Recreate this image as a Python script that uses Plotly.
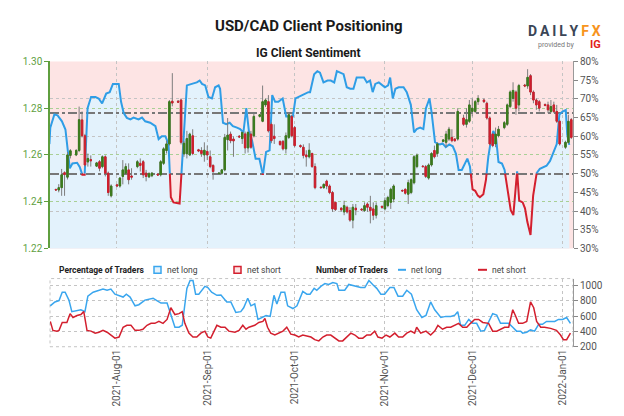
import pandas as pd
import plotly.graph_objects as go

# ---------------- data ----------------
candle_dates = [
    "2021-07-11", "2021-07-12", "2021-07-13", "2021-07-14", "2021-07-15", "2021-07-16",
    "2021-07-18", "2021-07-19", "2021-07-20", "2021-07-21", "2021-07-22", "2021-07-23",
    "2021-07-25", "2021-07-26", "2021-07-27", "2021-07-28", "2021-07-29", "2021-07-30",
    "2021-08-01", "2021-08-02", "2021-08-03", "2021-08-04", "2021-08-05", "2021-08-06",
    "2021-08-08", "2021-08-09", "2021-08-10", "2021-08-11", "2021-08-12", "2021-08-13",
    "2021-08-15", "2021-08-16", "2021-08-17", "2021-08-18", "2021-08-19", "2021-08-20",
    "2021-08-22", "2021-08-23", "2021-08-24", "2021-08-25", "2021-08-26", "2021-08-27",
    "2021-08-29", "2021-08-30", "2021-08-31", "2021-09-01", "2021-09-02", "2021-09-03",
    "2021-09-05", "2021-09-06", "2021-09-07", "2021-09-08", "2021-09-09", "2021-09-10",
    "2021-09-12", "2021-09-13", "2021-09-14", "2021-09-15", "2021-09-16", "2021-09-17",
    "2021-09-19", "2021-09-20", "2021-09-21", "2021-09-22", "2021-09-23", "2021-09-24",
    "2021-09-26", "2021-09-27", "2021-09-28", "2021-09-29", "2021-09-30", "2021-10-01",
    "2021-10-03", "2021-10-04", "2021-10-05", "2021-10-06", "2021-10-07", "2021-10-08",
    "2021-10-10", "2021-10-11", "2021-10-12", "2021-10-13", "2021-10-14", "2021-10-15",
    "2021-10-17", "2021-10-18", "2021-10-19", "2021-10-20", "2021-10-21", "2021-10-22",
    "2021-10-24", "2021-10-25", "2021-10-26", "2021-10-27", "2021-10-28", "2021-10-29",
    "2021-10-31", "2021-11-01", "2021-11-02", "2021-11-03", "2021-11-04",
    "2021-11-07", "2021-11-08", "2021-11-09", "2021-11-10", "2021-11-11", "2021-11-12",
    "2021-11-14", "2021-11-15", "2021-11-16", "2021-11-17", "2021-11-18", "2021-11-19",
    "2021-11-21", "2021-11-22", "2021-11-23", "2021-11-24", "2021-11-25", "2021-11-26",
    "2021-11-28", "2021-11-29", "2021-11-30", "2021-12-01", "2021-12-02", "2021-12-03",
    "2021-12-05", "2021-12-06", "2021-12-07", "2021-12-08", "2021-12-09", "2021-12-10",
    "2021-12-12", "2021-12-13", "2021-12-14", "2021-12-15", "2021-12-16", "2021-12-17",
    "2021-12-19", "2021-12-20", "2021-12-21", "2021-12-22", "2021-12-23", "2021-12-24",
    "2021-12-26", "2021-12-27", "2021-12-28", "2021-12-29", "2021-12-30", "2021-12-31",
    "2022-01-02", "2022-01-03", "2022-01-04",
]
candle_open = [
    1.2452, 1.2450, 1.2460, 1.2524, 1.2505, 1.2598,
    1.2600, 1.2619, 1.2750, 1.2682, 1.2570, 1.2580,
    1.2552, 1.2571, 1.2550, 1.2592, 1.2522, 1.2425,
    1.2472, 1.2467, 1.2508, 1.2522, 1.2536, 1.2510,
    1.2550, 1.2564, 1.2571, 1.2522, 1.2506, 1.2511,
    1.2518, 1.2515, 1.2564, 1.2619, 1.2647, 1.2830,
    1.2830, 1.2835, 1.2605, 1.2605, 1.2600, 1.2682,
    1.2622, 1.2619, 1.2600, 1.2615, 1.2592, 1.2555,
    1.2520, 1.2522, 1.2536, 1.2665, 1.2689, 1.2668,
    1.2680, 1.2670, 1.2690, 1.2630, 1.2689, 1.2682,
    1.2765, 1.2744, 1.2814, 1.2828, 1.2731, 1.2680,
    1.2658, 1.2658, 1.2626, 1.2675, 1.2765, 1.2717,
    1.2640, 1.2633, 1.2600, 1.2592, 1.2606, 1.2550,
    1.2462, 1.2460, 1.2488, 1.2467, 1.2439, 1.2397,
    1.2372, 1.2356, 1.2376, 1.2362, 1.2321, 1.2372,
    1.2368, 1.2362, 1.2390, 1.2376, 1.2369, 1.2342,
    1.2380, 1.2369, 1.2383, 1.2397, 1.2411,
    1.2448, 1.2453, 1.2432, 1.2439, 1.2481, 1.2550,
    1.2552, 1.2550, 1.2501, 1.2557, 1.2619, 1.2606,
    1.2658, 1.2654, 1.2668, 1.2675, 1.2668, 1.2668,
    1.2758, 1.2731, 1.2744, 1.2786, 1.2786, 1.2828,
    1.2835, 1.2821, 1.2758, 1.2689, 1.2647, 1.2682,
    1.2717, 1.2731, 1.2807, 1.2842, 1.2869, 1.2814,
    1.2899, 1.2895, 1.2939, 1.2869, 1.2835, 1.2828,
    1.2816, 1.2814, 1.2786, 1.2814, 1.2786, 1.2744,
    1.2633, 1.2654, 1.2751,
]
candle_high = [
    1.2456, 1.2475, 1.2540, 1.2530, 1.2612, 1.2625,
    1.2625, 1.2807, 1.2786, 1.2690, 1.2606, 1.2598,
    1.2570, 1.2578, 1.2598, 1.2598, 1.2529, 1.2474,
    1.2476, 1.2505, 1.2578, 1.2564, 1.2564, 1.2543,
    1.2578, 1.2585, 1.2578, 1.2536, 1.2526, 1.2527,
    1.2522, 1.2578, 1.2633, 1.2661, 1.2835, 1.2950,
    1.2835, 1.2842, 1.2660, 1.2703, 1.2695, 1.2710,
    1.2626, 1.2633, 1.2654, 1.2640, 1.2619, 1.2560,
    1.2526, 1.2540, 1.2690, 1.2758, 1.2700, 1.2680,
    1.2685, 1.2700, 1.2700, 1.2703, 1.2703, 1.2779,
    1.2775, 1.2897, 1.2842, 1.2856, 1.2740, 1.2731,
    1.2661, 1.2664, 1.2696, 1.2779, 1.2772, 1.2724,
    1.2645, 1.2645, 1.2620, 1.2650, 1.2610, 1.2564,
    1.2465, 1.2478, 1.2494, 1.2474, 1.2446, 1.2400,
    1.2376, 1.2404, 1.2383, 1.2376, 1.2390, 1.2390,
    1.2372, 1.2397, 1.2397, 1.2425, 1.2397, 1.2397,
    1.2383, 1.2418, 1.2425, 1.2460, 1.2474,
    1.2452, 1.2456, 1.2494, 1.2500, 1.2599, 1.2606,
    1.2556, 1.2557, 1.2564, 1.2612, 1.2640, 1.2654,
    1.2668, 1.2703, 1.2720, 1.2710, 1.2672, 1.2800,
    1.2772, 1.2800, 1.2835, 1.2842, 1.2835, 1.2856,
    1.2842, 1.2828, 1.2765, 1.2695, 1.2717, 1.2724,
    1.2745, 1.2820, 1.2876, 1.2911, 1.2876, 1.2904,
    1.2904, 1.2967, 1.2946, 1.2876, 1.2842, 1.2835,
    1.2820, 1.2828, 1.2835, 1.2828, 1.2814, 1.2751,
    1.2661, 1.2772, 1.2758,
]
candle_low = [
    1.2447, 1.2440, 1.2425, 1.2425, 1.2495, 1.2585,
    1.2595, 1.2612, 1.2675, 1.2550, 1.2550, 1.2550,
    1.2548, 1.2530, 1.2543, 1.2508, 1.2425, 1.2418,
    1.2462, 1.2460, 1.2474, 1.2515, 1.2474, 1.2494,
    1.2543, 1.2529, 1.2501, 1.2487, 1.2501, 1.2505,
    1.2510, 1.2508, 1.2557, 1.2606, 1.2640, 1.2808,
    1.2822, 1.2645, 1.2592, 1.2585, 1.2595, 1.2599,
    1.2612, 1.2592, 1.2571, 1.2578, 1.2543, 1.2494,
    1.2516, 1.2515, 1.2530, 1.2619, 1.2650, 1.2592,
    1.2672, 1.2647, 1.2606, 1.2610, 1.2626, 1.2675,
    1.2760, 1.2740, 1.2805, 1.2696, 1.2650, 1.2647,
    1.2640, 1.2619, 1.2606, 1.2668, 1.2675, 1.2633,
    1.2630, 1.2585, 1.2550, 1.2585, 1.2545, 1.2453,
    1.2456, 1.2455, 1.2453, 1.2432, 1.2356, 1.2360,
    1.2356, 1.2342, 1.2349, 1.2314, 1.2286, 1.2342,
    1.2360, 1.2356, 1.2356, 1.2307, 1.2321, 1.2328,
    1.2369, 1.2362, 1.2376, 1.2369, 1.2397,
    1.2442, 1.2430, 1.2390, 1.2432, 1.2474, 1.2543,
    1.2546, 1.2501, 1.2494, 1.2550, 1.2585, 1.2592,
    1.2655, 1.2633, 1.2660, 1.2654, 1.2656, 1.2661,
    1.2724, 1.2717, 1.2737, 1.2765, 1.2779, 1.2814,
    1.2822, 1.2751, 1.2640, 1.2633, 1.2633, 1.2675,
    1.2710, 1.2724, 1.2800, 1.2828, 1.2772, 1.2786,
    1.2890, 1.2883, 1.2856, 1.2821, 1.2793, 1.2786,
    1.2808, 1.2779, 1.2779, 1.2779, 1.2737, 1.2640,
    1.2626, 1.2647, 1.2668,
]
candle_close = [
    1.2450, 1.2460, 1.2515, 1.2516, 1.2600, 1.2618,
    1.2619, 1.2751, 1.2682, 1.2557, 1.2585, 1.2575,
    1.2566, 1.2543, 1.2592, 1.2522, 1.2439, 1.2467,
    1.2467, 1.2501, 1.2536, 1.2550, 1.2494, 1.2505,
    1.2571, 1.2555, 1.2515, 1.2508, 1.2520, 1.2522,
    1.2514, 1.2571, 1.2626, 1.2647, 1.2828, 1.2822,
    1.2826, 1.2654, 1.2650, 1.2670, 1.2689, 1.2606,
    1.2617, 1.2606, 1.2620, 1.2600, 1.2550, 1.2529,
    1.2522, 1.2536, 1.2675, 1.2685, 1.2661, 1.2660,
    1.2677, 1.2696, 1.2630, 1.2696, 1.2633, 1.2765,
    1.2772, 1.2828, 1.2835, 1.2703, 1.2661, 1.2670,
    1.2644, 1.2626, 1.2682, 1.2772, 1.2682, 1.2640,
    1.2636, 1.2598, 1.2592, 1.2620, 1.2550, 1.2460,
    1.2460, 1.2474, 1.2467, 1.2439, 1.2369, 1.2366,
    1.2365, 1.2383, 1.2356, 1.2321, 1.2376, 1.2365,
    1.2365, 1.2383, 1.2376, 1.2362, 1.2342, 1.2383,
    1.2376, 1.2404, 1.2418, 1.2453, 1.2467,
    1.2446, 1.2436, 1.2481, 1.2494, 1.2592, 1.2599,
    1.2550, 1.2508, 1.2557, 1.2606, 1.2592, 1.2647,
    1.2664, 1.2689, 1.2710, 1.2661, 1.2661, 1.2786,
    1.2731, 1.2751, 1.2814, 1.2800, 1.2828, 1.2842,
    1.2828, 1.2758, 1.2647, 1.2640, 1.2689, 1.2710,
    1.2738, 1.2814, 1.2869, 1.2876, 1.2800, 1.2897,
    1.2895, 1.2932, 1.2869, 1.2835, 1.2814, 1.2800,
    1.2812, 1.2793, 1.2807, 1.2786, 1.2744, 1.2647,
    1.2654, 1.2744, 1.2675,
]

# IG client sentiment: % of traders net long (time in days from 2021-08-01)
sent_days = [
    -23.2, -22.9, -21.5, -20.4, -18.9, -17.7, -16.9, -16.2, -15.3, -13.7, -12.8, -11.9,
    -11.1, -10.1, -8.9, -7.4, -6.3, -5.1, -3.7, -2.5, -1.4, 0.6, 1.4, 2.3, 3.4, 4.6, 5.7,
    7.4, 8.6, 9.7, 11.4, 13.2, 14.3, 15.4, 16.6, 17.7, 18.5, 19.4, 20.8, 21.5,
    24.0, 25.7, 27.4, 28.4, 29.2, 30.3, 31.4, 32.6, 33.7, 34.9, 35.4, 36.4, 37.5, 38.7,
    39.8, 41.2, 42.3, 43.4, 44.4, 45.3, 46.4, 47.6, 48.9, 50.1, 51.2, 52.4, 53.3, 54.3,
    55.4, 56.9, 58.1, 59.5, 60.4, 61.3, 62.3, 63.4, 64.6, 65.7,
    66.3, 67.7, 68.8, 69.7, 70.9, 72.3, 73.4, 74.6, 75.5, 76.6, 77.8, 78.9, 80.1, 81.2,
    82.3, 83.7, 84.8, 85.8, 86.9, 87.8, 88.7, 89.9, 91.0, 92.0, 93.1, 93.8, 94.7, 95.6,
    96.7, 98.4, 99.5, 100.9, 102.0, 102.9, 104.1, 105.2, 106.1, 107.3, 108.0, 109.2, 110.4,
    110.9, 111.8, 112.9, 114.1, 115.3, 116.4, 117.3, 118.4, 119.6, 120.3, 121.2, 122.1,
    123.0, 123.9, 124.6, 125.8, 126.7, 127.5, 128.3, 129.2, 130.1, 131.0, 132.2, 133.1,
    134.0, 135.2, 136.1, 136.8, 137.4, 138.1, 139.3, 140.1, 140.9, 142.0, 142.9, 144.1,
    145.2, 146.4, 147.5, 148.7, 149.8, 151.0, 151.9, 153.0, 154.1, 154.6, 155.3,
]
sent_pct = [
    57.9, 62.3, 65.8, 65.6, 64.0, 61.8, 56.2, 51.4, 52.7, 52.9, 51.8, 49.7,
    49.7, 67.5, 70.5, 70.5, 70.1, 68.8, 71.4, 71.8, 74.0, 74.0, 69.2, 66.2, 64.9, 64.5, 65.0,
    64.5, 65.0, 64.0, 63.6, 62.7, 59.2, 60.0, 60.0, 57.9, 43.7, 42.3, 42.2, 42.0,
    73.6, 74.0, 74.4, 74.9, 74.0, 73.6, 70.5, 70.1, 73.1, 73.6, 72.7, 63.6, 63.2, 63.6,
    62.7, 62.3, 61.9, 61.0, 67.5, 61.4, 58.8, 54.0, 54.0, 49.7, 55.8, 56.2, 71.0, 69.2,
    69.2, 70.1, 65.3, 65.3, 65.3, 70.1, 70.5, 71.0, 71.4, 71.8,
    71.8, 76.6, 77.4, 77.0, 74.4, 74.9, 74.9, 74.4, 77.4, 77.0, 76.6, 73.1, 72.7, 72.7,
    75.7, 75.7, 75.7, 74.4, 74.9, 71.8, 74.0, 74.4, 73.6, 73.1, 73.6, 75.7, 70.1, 72.7,
    73.1, 73.1, 71.8, 68.4, 61.0, 61.9, 62.3, 61.9, 67.5, 70.1, 66.6, 58.4, 57.9,
    57.8, 58.1, 57.1, 57.8, 57.3, 55.3, 51.0, 51.0, 52.7, 54.0, 51.9, 45.8,
    45.4, 44.1, 43.7, 44.5, 48.4, 54.5, 58.4, 61.4, 60.1, 53.1, 52.7, 51.0,
    45.8, 40.2, 38.9, 45.8, 50.6, 42.8, 42.3, 40.7, 37.1, 33.6, 44.1, 50.1,
    51.3, 51.7, 52.1, 53.4, 55.4, 57.9, 65.8, 66.6, 67.0, 60.4, 57.7,
]

# number of traders (time in days from 2021-08-01)
long_days = [
    -22.9, -21.3, -19.9, -18.8, -17.8, -16.5, -15.5, -13.7, -12.4, -11.0, -10.0, -8.2,
    -6.2, -4.8, -3.4, -2.1, -0.7, 0.7, 2.1, 3.2, 4.5, 6.2, 7.5, 9.6, 11.0, 12.4, 13.7,
    15.1, 17.2, 18.8, 19.9, 21.3, 22.4, 24.0, 25.1, 26.1, 27.0, 28.1, 30.2, 31.2, 32.5,
    34.3, 35.7, 37.7, 39.1, 40.8, 42.5, 43.5, 44.9, 46.0, 47.3, 48.4, 50.1, 51.2, 52.6,
    53.9, 54.9, 56.3, 57.6, 58.6, 60.4, 61.8, 63.8, 65.2, 66.3, 67.7, 68.6, 70.0, 71.4,
    72.7, 74.1, 75.5, 76.2, 78.2, 79.6, 81.7, 83.7, 85.1, 86.5, 87.8, 89.2, 90.6, 91.9,
    93.7, 95.1, 96.5, 98.1, 99.5, 101.1, 102.9, 104.7, 106.1, 107.7, 109.1, 110.2, 111.2,
    112.9, 114.6, 116.0, 117.0, 118.0, 119.4, 120.8, 122.1, 123.5, 124.9, 126.2, 127.6,
    129.0, 130.4, 131.7, 133.1, 134.5, 135.9, 137.2, 138.6, 139.3, 140.7, 142.0, 143.4,
    144.8, 146.1, 147.5, 148.9, 150.3, 151.6, 153.0, 154.4, 155.7,
]
long_count = [
    735, 786, 804, 913, 913, 810, 659, 669, 684, 659, 862, 913,
    939, 954, 939, 954, 888, 873, 850, 888, 850, 735, 750, 810, 822, 835, 804,
    772, 772, 597, 455, 455, 481, 964, 1066, 1066, 888, 888, 990, 975, 913,
    873, 878, 786, 786, 649, 659, 710, 835, 735, 760, 557, 582, 608, 597,
    873, 760, 913, 913, 735, 700, 735, 924, 888, 888, 964, 939, 990, 1026,
    1015, 1041, 1026, 939, 939, 1015, 990, 975, 975, 1066, 1015, 964, 888, 888,
    975, 975, 862, 862, 939, 888, 684, 582, 608, 786, 684, 633, 582,
    597, 597, 613, 659, 480, 480, 557, 506, 506, 404, 414, 531,
    633, 613, 506, 506, 506, 455, 404, 404, 378, 390, 420, 404,
    493, 493, 531, 531, 531, 557, 557, 582, 506,
]
short_days = [
    -22.9, -22.0, -20.6, -19.9, -18.8, -17.2, -16.1, -15.1, -13.7, -12.4, -11.4, -10.3,
    -8.9, -7.5, -6.2, -4.8, -3.4, -2.1, -0.7, 0.7, 2.1, 3.4, 4.8, 6.2, 7.5, 8.9, 10.3,
    11.7, 13.0, 14.4, 15.8, 17.2, 18.5, 19.9, 21.3, 22.4, 23.3, 24.7, 26.1, 27.4, 28.8,
    30.2, 31.2, 32.2, 34.3, 35.7, 37.1, 38.4, 40.5, 41.9, 43.2, 44.3, 45.3, 47.3, 48.7,
    50.1, 50.8, 51.7, 52.8, 54.2, 55.6, 57.0, 58.3, 59.7, 61.1, 62.4, 63.8, 65.2, 66.6,
    67.9, 69.3, 70.7, 72.0, 73.4, 74.8, 76.2, 77.5, 78.9, 80.3, 81.7, 83.0, 84.4, 85.8,
    87.1, 88.5, 89.6, 91.0, 92.4, 93.7, 95.4, 96.7, 98.1, 99.5, 100.9, 102.2, 102.9,
    104.3, 106.1, 107.7, 109.1, 110.2, 111.8, 113.2, 114.6, 116.0, 117.3, 118.7, 120.1,
    121.4, 122.8, 124.2, 125.6, 127.6, 129.0, 130.4, 131.7, 133.1, 134.5, 135.9, 136.8,
    137.9, 139.3, 140.7, 142.0, 143.1, 144.1, 145.5, 146.8, 148.9, 150.9, 152.3, 153.3,
    154.4, 155.7,
]
short_count = [
    531, 414, 404, 414, 518, 518, 633, 582, 608, 621, 659, 414,
    404, 378, 390, 414, 390, 353, 312, 327, 455, 480, 480, 414, 414, 429, 480,
    506, 506, 531, 506, 557, 710, 621, 633, 659, 506, 378, 327, 327, 378,
    404, 327, 312, 480, 455, 455, 404, 390, 414, 480, 429, 455, 480, 518,
    531, 570, 455, 378, 353, 378, 404, 455, 365, 353, 327, 353, 340, 327,
    292, 276, 327, 353, 353, 312, 276, 276, 327, 378, 353, 312, 312, 353,
    353, 404, 327, 312, 353, 327, 378, 327, 327, 378, 404, 378, 455,
    378, 404, 353, 404, 480, 429, 455, 455, 480, 506, 455, 455,
    506, 557, 557, 518, 506, 404, 404, 429, 455, 455, 684, 608,
    506, 506, 531, 786, 710, 531, 455, 455, 440, 414, 353, 292,
    292, 378,
]

price_ticks = [1.22, 1.24, 1.26, 1.28, 1.30]
pct_ticks = [30, 35, 40, 45, 50, 55, 60, 65, 70, 75, 80]
pct_grid = [40, 60, 70]
ref_pct = [50, 66.1]
count_ticks = [200, 400, 600, 800, 1000]
month_ticks = ["2021-08-01", "2021-09-01", "2021-10-01", "2021-11-01", "2021-12-01", "2022-01-01"]

# ---------------- styling ----------------
FONT = "Roboto, Liberation Sans, Arial, sans-serif"
BLUE = "#2f9de6"
RED = "#d31f2e"
GREEN_AX = "#5f9f3f"
UP = "#3b7b1c"
DOWN = "#cf1f2d"
WICK = "#7d7d7d"
X_RANGE = ["2021-07-09 00:00", "2022-01-04 14:00"]
W, H = 624, 416
XD = [50 / W, 573 / W]
TOP = [1 - 250 / H, 1 - 58 / H]
BOT = [1 - 351 / H, 1 - 281 / H]

BASE = pd.Timestamp("2021-08-01")


def to_time(days):
    return [(BASE + pd.Timedelta(days=float(d))).round("min") for d in days]


sent_t = to_time(sent_days)
long_t = to_time(long_days)
short_t = to_time(short_days)


def color_runs(ts, vs, thr=50.0):
    runs = []
    cur = vs[0] >= thr
    rx, ry = [ts[0]], [vs[0]]
    for i in range(1, len(vs)):
        c = vs[i] >= thr
        if c != cur:
            f = (thr - vs[i - 1]) / (vs[i] - vs[i - 1])
            tm = (ts[i - 1] + (ts[i] - ts[i - 1]) * f).round("min")
            rx.append(tm)
            ry.append(thr)
            runs.append((cur, rx, ry))
            cur, rx, ry = c, [tm], [thr]
        rx.append(ts[i])
        ry.append(vs[i])
    runs.append((cur, rx, ry))
    out = {True: ([], []), False: ([], [])}
    for c, rx, ry in runs:
        out[c][0].extend(rx + [None])
        out[c][1].extend(ry + [None])
    return out


runs = color_runs(sent_t, sent_pct)

fig = go.Figure()

# background fill (separate subplot drawn beneath the main one)
fig.add_trace(go.Scatter(x=sent_t, y=sent_pct, xaxis="x", yaxis="y", mode="lines",
                         line=dict(width=0), fill="tozeroy", fillcolor="#e3f2fc",
                         hoverinfo="skip", showlegend=False))

# helper axes that only carry grid lines (above the fill)
fig.add_trace(go.Scatter(x=[], y=[], xaxis="x3", yaxis="y5", showlegend=False, hoverinfo="skip"))
fig.add_trace(go.Scatter(x=[], y=[], xaxis="x3", yaxis="y6", showlegend=False, hoverinfo="skip"))

# sentiment line coloured by side
fig.add_trace(go.Scatter(x=runs[True][0], y=runs[True][1], xaxis="x3", yaxis="y3",
                         mode="lines", line=dict(color=BLUE, width=2),
                         hoverinfo="skip", showlegend=False))
fig.add_trace(go.Scatter(x=runs[False][0], y=runs[False][1], xaxis="x3", yaxis="y3",
                         mode="lines", line=dict(color=RED, width=2),
                         hoverinfo="skip", showlegend=False))

# candles: gray wicks + coloured bodies
body_hi = [max(o, c) for o, c in zip(candle_open, candle_close)]
body_lo = [min(o, c) for o, c in zip(candle_open, candle_close)]
fig.add_trace(go.Candlestick(x=candle_dates, open=candle_open, high=candle_high,
                             low=candle_low, close=candle_close, xaxis="x3", yaxis="y4",
                             whiskerwidth=0,
                             increasing=dict(line=dict(color=WICK, width=1), fillcolor=WICK),
                             decreasing=dict(line=dict(color=WICK, width=1), fillcolor=WICK),
                             hoverinfo="skip", showlegend=False))
fig.add_trace(go.Candlestick(x=candle_dates, open=candle_open, high=body_hi,
                             low=body_lo, close=candle_close, xaxis="x3", yaxis="y4",
                             whiskerwidth=0,
                             increasing=dict(line=dict(color=UP, width=1), fillcolor=UP),
                             decreasing=dict(line=dict(color=DOWN, width=1), fillcolor=DOWN),
                             hoverinfo="skip", showlegend=False))

# number of traders
fig.add_trace(go.Scatter(x=long_t, y=long_count, xaxis="x2", yaxis="y2", mode="lines",
                         line=dict(color="#3aa6ee", width=1.5), hoverinfo="skip",
                         showlegend=False))
fig.add_trace(go.Scatter(x=short_t, y=short_count, xaxis="x2", yaxis="y2", mode="lines",
                         line=dict(color=RED, width=1.5), hoverinfo="skip",
                         showlegend=False))

hidden = dict(visible=False)
tickfont = dict(family=FONT, size=10, color="#555555")
grid_only = dict(showticklabels=False, ticks="", showline=False, zeroline=False)

fig.update_layout(
    width=W, height=H, margin=dict(l=0, r=0, t=0, b=0),
    paper_bgcolor="white", plot_bgcolor="rgba(0,0,0,0)",
    font=dict(family=FONT, color="#333333"),
    showlegend=False,
    xaxis=dict(domain=XD, anchor="y", range=X_RANGE, type="date", **hidden),
    yaxis=dict(domain=TOP, anchor="x", range=[30, 80], **hidden),
    xaxis3=dict(domain=XD, anchor="y3", range=X_RANGE, type="date",
                showticklabels=False, ticks="", tickvals=month_ticks,
                showgrid=True, gridcolor="#c4c4c4", griddash="dot", gridwidth=1,
                zeroline=False, showline=False, rangeslider=dict(visible=False)),
    yaxis3=dict(domain=TOP, anchor="x3", side="right", range=[30, 80],
                tickmode="array", tickvals=pct_ticks,
                ticktext=[f"{v}%" for v in pct_ticks], ticks="outside", ticklen=4,
                tickcolor="#888888", showline=True, linecolor="#999999", linewidth=1,
                showgrid=False, zeroline=False, tickfont=tickfont),
    yaxis4=dict(overlaying="y3", anchor="x3", side="left", range=[1.22, 1.30],
                tickvals=price_ticks, tickformat=".2f", ticks="outside", ticklen=4,
                tickcolor=GREEN_AX, showline=True, linecolor=GREEN_AX, linewidth=1.5,
                showgrid=True, gridcolor="#a9cf95", griddash="dot", gridwidth=1,
                zeroline=False, tickfont=dict(family=FONT, size=10, color=GREEN_AX)),
    yaxis5=dict(overlaying="y3", anchor="x3", side="right", range=[30, 80],
                tickmode="array", tickvals=pct_grid, showgrid=True, gridcolor="#c4c4c4",
                griddash="dot", gridwidth=1, **grid_only),
    yaxis6=dict(overlaying="y3", anchor="x3", side="right", range=[30, 80],
                tickmode="array", tickvals=ref_pct, showgrid=True, gridcolor="#777777",
                griddash="dashdot", gridwidth=1.5, **grid_only),
    xaxis2=dict(domain=XD, anchor="y2", range=X_RANGE, type="date",
                tickvals=month_ticks, tickformat="%Y-%b-%d", tickangle=-90,
                ticks="", showgrid=True, gridcolor="#c4c4c4", griddash="dot",
                zeroline=False, showline=False, tickfont=tickfont),
    yaxis2=dict(domain=BOT, anchor="x2", side="right", range=[200, 1092],
                tickvals=count_ticks, ticks="outside", ticklen=4, tickcolor="#888888",
                showline=True, linecolor="#999999", showgrid=True, gridcolor="#c4c4c4",
                griddash="dot", zeroline=False, tickfont=tickfont),
)


def px(x):
    return x / W


def py(y):
    return 1 - y / H


LEG_Y = 272
shapes = [
    dict(type="rect", xref="x domain", yref="y domain", x0=0, x1=1, y0=0, y1=1,
         fillcolor="#fde4e4", line=dict(width=0), layer="below"),
    dict(type="rect", xref="x2 domain", yref="y2 domain", x0=0, x1=1, y0=0, y1=1,
         line=dict(color="#c4c4c4", width=1, dash="dot"), layer="below"),
    dict(type="rect", xref="paper", yref="paper", x0=px(154), x1=px(161),
         y0=py(275.5), y1=py(268.5), fillcolor="#e3f2fc", line=dict(color="#3aa6ee", width=1.5)),
    dict(type="rect", xref="paper", yref="paper", x0=px(234), x1=px(241),
         y0=py(275.5), y1=py(268.5), fillcolor="#fde4e4", line=dict(color=RED, width=1.5)),
    dict(type="line", xref="paper", yref="paper", x0=px(398), x1=px(406),
         y0=py(LEG_Y), y1=py(LEG_Y), line=dict(color="#3aa6ee", width=2)),
    dict(type="line", xref="paper", yref="paper", x0=px(478), x1=px(487),
         y0=py(LEG_Y), y1=py(LEG_Y), line=dict(color=RED, width=2)),
]
fig.update_layout(shapes=shapes)

ann = []


def text(x, y, s, size=10, color="#333333", anchor="left", bold=False):
    ann.append(dict(xref="paper", yref="paper", x=px(x), y=py(y), text=f"<b>{s}</b>" if bold else s,
                    showarrow=False, xanchor=anchor, yanchor="middle",
                    font=dict(family=FONT, size=size, color=color)))


text(308, 22, "USD/CAD Client Positioning", size=15, color="#1a1a1a", anchor="center", bold=True)
text(308, 49, "IG Client Sentiment", size=12, color="#1a1a1a", anchor="center", bold=True)
text(57, LEG_Y, "Percentage of Traders", size=8.5, color="#222222", bold=True)
text(165, LEG_Y, "net long", size=8.5, color="#444444")
text(245, LEG_Y, "net short", size=8.5, color="#444444")
text(314, LEG_Y, "Number of Traders", size=8.5, color="#222222", bold=True)
text(409, LEG_Y, "net long", size=8.5, color="#444444")
text(490, LEG_Y, "net short", size=8.5, color="#444444")
# DailyFX logo
ann.append(dict(xref="paper", yref="paper", x=px(603), y=py(27), xanchor="right", yanchor="middle",
                showarrow=False,
                text="<b><span style='color:#3b4657'>D\u2009A\u2009I\u2009L\u2009Y</span>"
                     "<span style='color:#f7941d'>\u2009F\u2009X</span></b>",
                font=dict(family=FONT, size=14)))
ann.append(dict(xref="paper", yref="paper", x=px(577), y=py(41), xanchor="right", yanchor="middle",
                showarrow=False, text="provided by", font=dict(family=FONT, size=7, color="#777777")))
ann.append(dict(xref="paper", yref="paper", x=px(603), y=py(41), xanchor="right", yanchor="middle",
                showarrow=False, text="<b>IG</b>", font=dict(family=FONT, size=11, color="#e2231a")))
fig.update_layout(annotations=ann)

fig.write_html("out.html")
